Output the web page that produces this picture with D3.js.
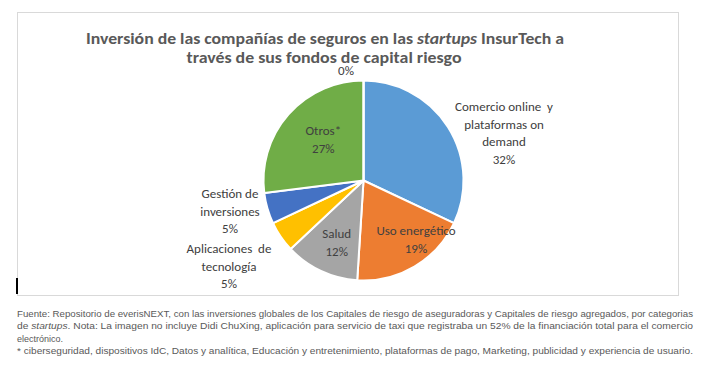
<!DOCTYPE html>
<html>
<head>
<meta charset="utf-8">
<script src="https://cdn.jsdelivr.net/npm/d3@7"></script>
<style>
  body { margin: 0; background: #fff; }
  text { white-space: pre; }
</style>
</head>
<body>
<div id="chart"></div>
<script>
// Data
const categories = ["Comercio online y plataformas on demand", "Uso energético", "Salud",
  "Aplicaciones de tecnología", "Gestión de inversiones", "Otros*", ""];
const shares = [32, 19, 12, 5, 5, 27, 0];
const labelLines = [
  ["Comercio online  y", "plataformas on", "demand"],
  ["Uso energético"],
  ["Salud"],
  ["Aplicaciones  de", "tecnología"],
  ["Gestión de", "inversiones"],
  ["Otros*"],
  []
];
const colors = ["#5B9BD5", "#ED7D31", "#A5A5A5", "#FFC000", "#4472C4", "#70AD47", "#264478"];

// label block centres, relative to the pie centre
const labelOffsets = [[140.5, -47.6], [52.5, 59], [-26.8, 62], [-134.5, 85.5],
  [-133.5, 30.5], [-40.2, -41], [-17.5, -110]];

const titleLines = ["Inversión de las compañías de seguros en las ", "startups", " InsurTech a"];
const footLines = [
  "Fuente: Repositorio de everisNEXT, con las inversiones globales de los Capitales de riesgo de aseguradoras y Capitales de riesgo agregados, por categorias",
  ["de ", "startups", ". Nota: La imagen no incluye Didi ChuXing, aplicación para servicio de taxi que registraba un 52% de la financiación total para el comercio"],
  "electrónico.",
  "* ciberseguridad, dispositivos IdC, Datos y analítica, Educación y entretenimiento, plataformas de pago, Marketing, publicidad y experiencia de usuario."
];

const width = 714, height = 371;
const cx = 363.5, cy = 180.5, radius = 100;
const labelFont = "Carlito, Lato, sans-serif";

const svg = d3.select("#chart").append("svg")
    .attr("width", width)
    .attr("height", height);

// chart frame
svg.append("rect")
    .attr("x", 17.5).attr("y", 12.5)
    .attr("width", 661).attr("height", 283)
    .attr("fill", "none")
    .attr("stroke", "#D9D9D9");

// stray cursor mark at the bottom-left of the frame
svg.append("rect")
    .attr("x", 16).attr("y", 278)
    .attr("width", 2).attr("height", 16)
    .attr("fill", "#000");

// title
const title = svg.append("g")
    .attr("font-family", labelFont)
    .attr("font-weight", "bold")
    .attr("font-size", 16)
    .attr("fill", "#595959")
    .attr("text-anchor", "middle");

const t1 = title.append("text")
    .attr("x", 325).attr("y", 44)
    .attr("textLength", 478)
    .attr("lengthAdjust", "spacingAndGlyphs");
t1.append("tspan").text(titleLines[0]);
t1.append("tspan").attr("font-style", "italic").text(titleLines[1]);
t1.append("tspan").text(titleLines[2]);

title.append("text")
    .attr("x", 324).attr("y", 63)
    .attr("textLength", 275)
    .attr("lengthAdjust", "spacingAndGlyphs")
    .text("través de sus fondos de capital riesgo");

// pie
const pie = d3.pie().sort(null).value(d => d)(shares);
const arc = d3.arc().innerRadius(0).outerRadius(radius);

const g = svg.append("g").attr("transform", `translate(${cx},${cy})`);

g.selectAll("path")
  .data(pie)
  .join("path")
    .attr("d", arc)
    .attr("fill", (d, i) => colors[i])
    .attr("stroke", "#fff")
    .attr("stroke-width", 2)
    .attr("stroke-linejoin", "round");

// data labels
const lineH = 17.4;
const labels = g.selectAll("text.label")
  .data(pie)
  .join("text")
    .attr("class", "label")
    .attr("font-family", labelFont)
    .attr("font-size", 13)
    .attr("fill", "#404040")
    .attr("text-anchor", "middle");

labels.each(function(d, i) {
    const lines = labelLines[i].concat([`${d.data}%`]);
    const [dx, dy] = labelOffsets[i];
    const top = dy - (lines.length - 1) * lineH / 2;
    d3.select(this).selectAll("tspan")
      .data(lines)
      .join("tspan")
        .attr("x", dx)
        .attr("y", (l, j) => top + j * lineH)
        .attr("dy", "0.35em")
        .text(l => l);
});

// footnote
const foot = svg.append("g")
    .attr("font-family", "'Liberation Sans', Arial, sans-serif")
    .attr("font-size", 9)
    .attr("fill", "#595959");

footLines.forEach((line, i) => {
    const t = foot.append("text")
        .attr("x", 17)
        .attr("y", 317 + i * 12.3);
    if (i !== 2) {
        t.attr("textLength", 676).attr("lengthAdjust", "spacingAndGlyphs");
    }
    if (Array.isArray(line)) {
        line.forEach((part, j) => {
            t.append("tspan")
                .attr("font-style", j === 1 ? "italic" : null)
                .text(part);
        });
    } else {
        t.text(line);
    }
});
</script>
</body>
</html>
